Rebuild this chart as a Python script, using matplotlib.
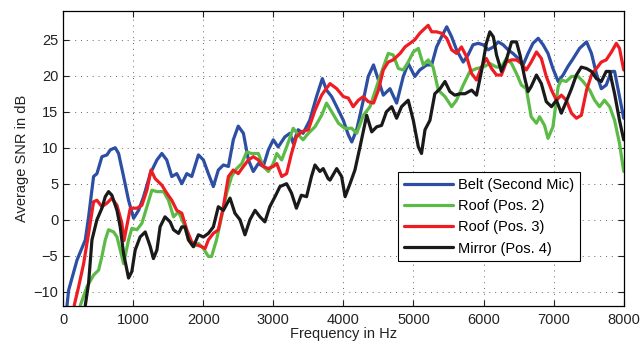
import matplotlib
matplotlib.use("Agg")
import matplotlib.pyplot as plt

plt.rcParams['font.family'] = ['Liberation Sans', 'DejaVu Sans']

# Belt (Second Mic)
belt_f = [57, 80, 200, 318, 365, 436, 484, 555, 627, 674, 745, 793, 864, 935, 1007, 1078, 1150, 1245,
          1340, 1410, 1480, 1552, 1623, 1695, 1766, 1837, 1932, 2003, 2074, 2145, 2216, 2288, 2360, 2430,
          2500, 2574, 2645, 2715, 2787, 2857, 2930, 3000, 3070, 3165, 3237, 3285, 3355, 3425, 3520, 3617,
          3700, 3760, 3833, 3905, 4000, 4070, 4120, 4190, 4285, 4355, 4430, 4500, 4570, 4665, 4760, 4855,
          4925, 5020, 5090, 5190, 5260, 5330, 5400, 5475, 5545, 5615, 5710, 5780, 5850, 5925, 5995, 6065,
          6140, 6210, 6280, 6350, 6420, 6495, 6565, 6635, 6705, 6780, 6850, 6920, 6990, 7065, 7135, 7205,
          7280, 7370, 7470, 7540, 7610, 7680, 7750, 7825, 7870, 7940, 8000]
belt_db = [-11.9, -9.8, -5.6, -2.8, 0.4, 6.0, 6.4, 8.75, 9.0, 9.7, 10.0, 9.2, 6.0, 2.7, 0.2, 1.3, 3.2, 6.4,
           8.3, 9.2, 8.3, 6.0, 6.4, 5.0, 6.4, 6.0, 9.0, 8.3, 6.4, 4.6, 6.9, 7.6, 7.4, 11.1,
           13.0, 12.0, 8.3, 6.7, 7.8, 7.4, 9.7, 11.1, 10.1, 11.5, 12.0, 10.6, 12.5, 12.0, 13.8, 17.1,
           19.6, 18.0, 17.1, 15.7, 13.8, 11.8, 10.8, 12.5, 16.6, 19.9, 21.5, 19.4, 17.3, 18.2, 16.2, 19.9,
           21.7, 19.9, 20.8, 21.5, 21.5, 24.0, 25.4, 26.8, 25.4, 23.6, 21.9, 22.9, 24.3, 24.5, 24.3, 23.6,
           24.0, 24.7, 24.3, 23.6, 23.1, 22.4, 21.5, 23.1, 24.5, 25.2, 24.3, 23.1, 21.0, 19.2, 20.1, 21.3,
           22.4, 23.8, 24.7, 23.1, 20.3, 18.2, 18.7, 20.6, 20.6, 17.1, 14.1]

# Roof (Pos. 2)
roof2_f = [247, 342, 436, 508, 555, 603, 650, 722, 770, 816, 864, 935, 982, 1054, 1125, 1197, 1268, 1340,
           1435, 1505, 1577, 1648, 1720, 1790, 1860, 1932, 2003, 2074, 2120, 2190, 2263, 2335, 2405, 2477,
           2550, 2620, 2690, 2787, 2857, 2930, 3000, 3050, 3120, 3190, 3285, 3355, 3425, 3500, 3595, 3690,
           3760, 3833, 3930, 4020, 4120, 4190, 4285, 4380, 4475, 4570, 4640, 4710, 4785, 4855, 4925, 4998,
           5070, 5140, 5210, 5280, 5355, 5450, 5545, 5615, 5710, 5805, 5900, 5995, 6090, 6185, 6255, 6325,
           6400, 6470, 6540, 6610, 6680, 6755, 6800, 6870, 6920, 6990, 7065, 7110, 7180, 7255, 7350, 7420,
           7515, 7585, 7655, 7725, 7800, 7870, 7940, 8000]
roof2_db = [-11.9, -9.3, -7.7, -7.0, -5.1, -2.8, -1.4, -1.7, -2.4, -4.2, -6.1, -2.8, -1.2, -1.4, -0.5, 1.8, 4.1, 3.9,
            3.9, 2.7, 0.4, 1.1, -0.5, -2.8, -3.75, -3.3, -4.0, -5.1, -5.1, -2.8, 0.4, 3.7, 6.0, 7.1,
            7.8, 9.4, 9.2, 9.2, 7.4, 6.7, 7.8, 9.2, 8.3, 10.1, 12.7, 11.8, 11.1, 12.0, 12.9, 14.5,
            16.2, 15.0, 13.4, 12.7, 12.7, 12.0, 14.5, 15.7, 18.5, 21.2, 23.1, 22.9, 21.0, 20.8, 21.9, 23.3,
            23.8, 21.5, 22.2, 21.2, 18.0, 17.1, 15.7, 16.6, 18.7, 20.6, 21.0, 21.2, 21.7, 21.2, 21.2, 22.4,
            21.7, 20.3, 18.7, 18.2, 14.3, 13.4, 14.3, 13.1, 11.3, 12.9, 18.5, 19.4, 19.2, 19.9, 19.9, 19.2,
            18.0, 16.6, 15.7, 16.6, 15.7, 13.8, 10.6, 6.7]

# Roof (Pos. 3)
roof3_f = [160, 223, 294, 365, 436, 484, 555, 627, 697, 770, 840, 870, 960, 1054, 1125, 1197, 1255, 1315,
           1410, 1480, 1552, 1623, 1695, 1766, 1837, 1908, 1980, 2027, 2074, 2145, 2216, 2288, 2360, 2430,
           2500, 2574, 2645, 2715, 2787, 2857, 2930, 3000, 3050, 3120, 3190, 3260, 3330, 3400, 3500, 3595,
           3690, 3740, 3810, 3905, 4000, 4070, 4140, 4215, 4285, 4355, 4430, 4500, 4570, 4640, 4710, 4810,
           4880, 4950, 5020, 5090, 5165, 5210, 5260, 5330, 5400, 5475, 5545, 5615, 5685, 5760, 5830, 5900,
           5970, 6040, 6115, 6185, 6255, 6325, 6400, 6470, 6540, 6610, 6680, 6755, 6825, 6895, 6970, 7040,
           7110, 7180, 7255, 7325, 7395, 7470, 7540, 7610, 7680, 7750, 7825, 7895, 7940, 8000]
roof3_db = [-11.9, -9.3, -6.1, -1.9, 2.5, 2.7, 1.8, 2.3, 3.0, 2.0, -0.5, -2.9, 1.6, 1.6, 2.0, 4.1, 6.9, 5.7,
            4.8, 3.7, 2.7, 1.3, 0.9, -1.4, -3.1, -3.5, -3.75, -4.0, -2.8, -1.9, -1.4, 1.8, 6.0, 6.9,
            6.4, 7.4, 8.3, 8.75, 8.3, 7.4, 7.1, 7.4, 7.8, 6.0, 6.4, 9.2, 11.5, 12.2, 12.5, 15.2,
            17.3, 18.0, 18.9, 18.2, 17.1, 16.9, 15.7, 16.6, 17.1, 16.4, 16.2, 18.0, 20.8, 21.9, 22.2, 23.1,
            24.0, 24.5, 25.0, 25.9, 26.6, 27.0, 26.1, 26.1, 25.9, 25.2, 23.6, 23.1, 24.0, 22.6, 20.3, 19.4,
            21.2, 22.4, 21.0, 20.1, 20.1, 21.9, 22.2, 22.2, 21.7, 20.8, 21.9, 23.3, 22.4, 19.9, 18.0, 16.6,
            17.3, 16.6, 14.8, 14.1, 14.5, 18.0, 20.1, 21.0, 21.9, 22.2, 23.3, 24.5, 23.8, 20.8]

# Mirror (Pos. 4)
mirror_f = [318, 365, 413, 484, 555, 603, 650, 697, 770, 816, 864, 935, 982, 1030, 1100, 1173, 1245, 1290,
            1340, 1385, 1455, 1528, 1577, 1648, 1695, 1742, 1790, 1860, 1932, 2003, 2074, 2145, 2216, 2288,
            2383, 2453, 2525, 2596, 2667, 2740, 2810, 2880, 2950, 3025, 3095, 3190, 3260, 3330, 3400, 3475,
            3545, 3595, 3665, 3712, 3783, 3810, 3905, 3975, 4025, 4095, 4165, 4237, 4333, 4405, 4475, 4545,
            4615, 4690, 4760, 4830, 4925, 4998, 5070, 5115, 5165, 5235, 5305, 5380, 5450, 5520, 5590, 5665,
            5735, 5830, 5900, 5970, 6040, 6090, 6140, 6185, 6255, 6325, 6400, 6470, 6520, 6590, 6635, 6680,
            6755, 6825, 6895, 6970, 7040, 7110, 7180, 7255, 7325, 7395, 7470, 7540, 7610, 7680, 7750, 7800,
            7870, 7940, 8000]
mirror_db = [-11.9, -8.8, -2.8, 0.0, 1.6, 3.2, 3.9, 3.4, 1.3, -1.0, -4.7, -8.1, -7.2, -4.2, -2.4, -1.7, -3.75, -5.4,
             -4.2, -1.0, 0.4, -0.3, -1.4, -1.9, -1.0, -1.0, -2.8, -3.75, -2.1, -2.4, -1.9, -1.0, 1.8, 1.3,
             3.0, 0.9, 0.0, -2.1, 0.0, 1.3, 0.4, -0.3, 1.8, 3.2, 4.6, 5.0, 3.7, 1.6, 3.4, 3.2,
             6.0, 7.6, 6.7, 7.1, 5.7, 5.5, 7.1, 6.0, 3.2, 5.0, 6.9, 10.1, 14.5, 12.2, 12.9, 13.1,
             15.0, 15.7, 14.1, 15.7, 16.6, 13.8, 10.1, 9.2, 12.5, 13.8, 17.5, 18.2, 19.2, 17.8, 17.3, 17.5,
             17.5, 18.0, 17.3, 20.6, 24.5, 26.1, 25.4, 22.9, 20.6, 22.2, 24.7, 24.7, 22.9, 19.6, 17.8, 18.5,
             20.1, 18.9, 16.4, 15.7, 16.6, 14.8, 16.4, 18.2, 20.1, 21.2, 21.0, 20.6, 19.6, 19.2, 20.6, 20.6,
             17.5, 13.8, 11.1]

labels = ['Belt (Second Mic)', 'Roof (Pos. 2)', 'Roof (Pos. 3)', 'Mirror (Pos. 4)']
colors = ['#2c4ea3', '#5cbb46', '#ee1d23', '#1a1a1a']

fig = plt.figure(figsize=(6.43, 3.42), dpi=100)
ax = fig.add_axes([0.098, 0.105, 0.872, 0.863])

series = [(belt_f, belt_db), (roof2_f, roof2_db), (roof3_f, roof3_db), (mirror_f, mirror_db)]
for (f, db), lab, c in zip(series, labels, colors):
    ax.plot(f, db, color=c, lw=2.3, label=lab, solid_joinstyle='round', solid_capstyle='round')

ax.set_xlim(0, 8000)
ax.set_ylim(-12, 29)
ax.set_xticks(range(0, 8001, 1000))
ax.set_yticks(range(-10, 26, 5))
ax.set_yticklabels(['\u221210', '\u22125', '0', '5', '10', '15', '20', '25'])
ax.grid(True, linestyle=(0, (1, 5)), color='#666666', linewidth=0.7)
ax.tick_params(direction='in', top=True, right=True, labelsize=10.5, colors='#222222', length=4)
ax.tick_params(axis='x', pad=5)
ax.set_xlabel('Frequency in Hz', fontsize=10.5, color='#222222', labelpad=0)
ax.set_ylabel('Average SNR in dB', fontsize=10.5, color='#222222', labelpad=3)
for s in ax.spines.values():
    s.set_linewidth(0.9)

leg = ax.legend(loc='upper left', bbox_to_anchor=(0.597, 0.455), fontsize=10.5, fancybox=False,
                framealpha=1, edgecolor='black', handlelength=3.4, borderpad=0.4,
                labelspacing=0.5, handletextpad=0.35, borderaxespad=0)
leg.get_frame().set_linewidth(0.8)

fig.savefig('out.png', dpi=100)
